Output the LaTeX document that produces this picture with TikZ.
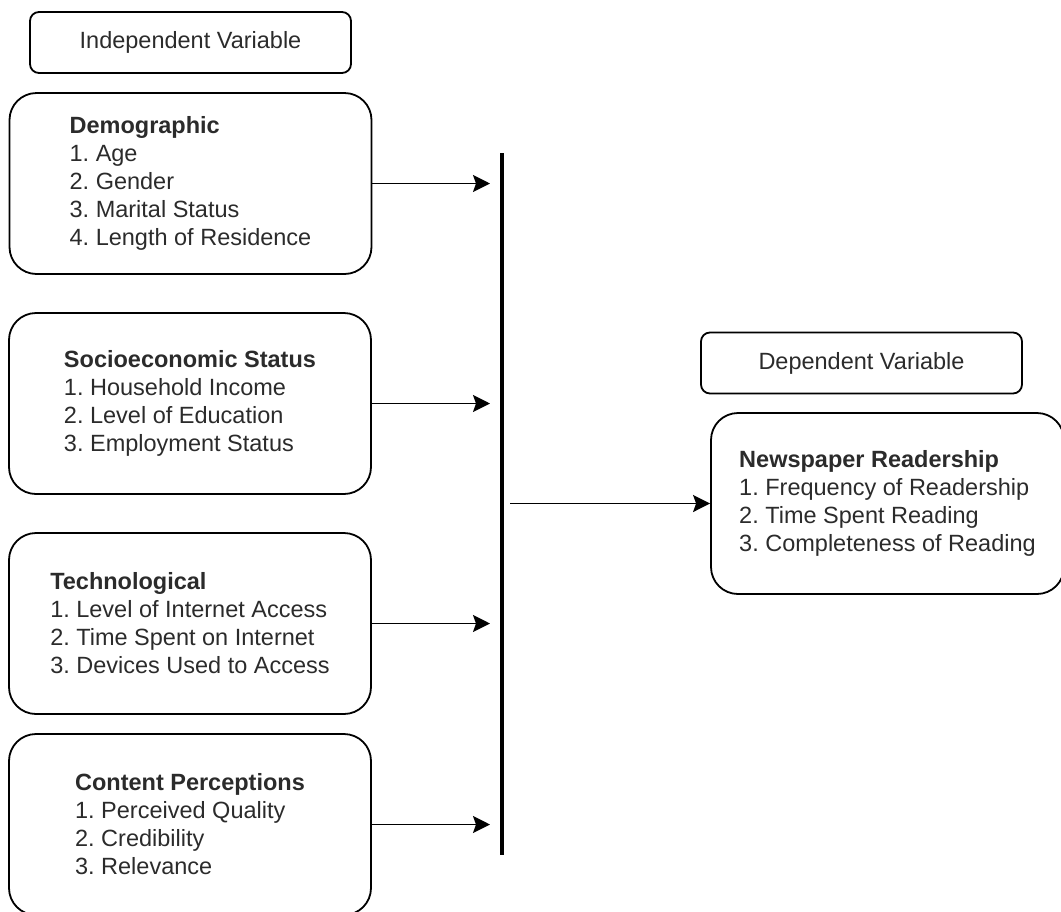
\documentclass[tikz,border=0pt]{standalone}
\usepackage{fontspec}
\setmainfont{Liberation Sans}
\usetikzlibrary{arrows.meta, positioning}
\usepackage{xcolor}
\definecolor{FrameBlack}{HTML}{000000}
\definecolor{TextGray}{HTML}{2B2B2B}
\frenchspacing
\tikzset{
    % Label boxes - small rounding
    header/.style={
        rectangle,
        rounded corners=9pt,
        draw=FrameBlack,
        line width=1.8pt,
        minimum width=321pt,
        minimum height=61pt,
        align=center,
        text=TextGray,
        font=\fontsize{23.5}{28}\selectfont
    },
    % Variable boxes - large rounding
    varbox/.style={
        rectangle,
        rounded corners=27pt,
        draw=FrameBlack,
        line width=1.8pt,
        minimum width=362pt,
        minimum height=181pt,
        align=left,
        text=TextGray,
        font=\fontsize{23.5}{28}\selectfont
    },
    % Arrow styles
    arrow/.style={
        -{Stealth[length=17pt,width=17pt,inset=3pt]},
        line width=1.8pt,
        draw=FrameBlack
    },
    bar/.style={
        line width=3.5pt,
        draw=FrameBlack
    }
}

\begin{document}
\begin{tikzpicture}[x=1pt,y=-1pt]
    \useasboundingbox (0,0) rectangle (1061,911);

    \node[header] (indep) at (190.5,42.5) {Independent Variable};
    \node[varbox] (demo) at (190.5,183.5) {\textbf{Demographic}\\1. Age\\2. Gender\\3. Marital Status\\4. Length of Residence};
    \node[varbox] (socio) at (190,403.5) {\textbf{Socioeconomic Status}\\1. Household Income\\2. Level of Education\\3. Employment Status};
    \node[varbox] (tech) at (190,623.5) {\textbf{Technological}\\1. Level of Internet Access\\2. Time Spent on Internet\\3. Devices Used to Access};
    \node[varbox] (content) at (190,824.5) {\textbf{Content Perceptions}\\1. Perceived Quality\\2. Credibility\\3. Relevance};

    \node[header] (dep) at (861.5,363) {Dependent Variable};
    \node[varbox, minimum width=353pt] (reader) at (887.5,503.5) {\textbf{Newspaper Readership}\\1. Frequency of Readership\\2. Time Spent Reading\\3. Completeness of Reading};

    % joining bar
    \coordinate (bartop) at (502,153);
    \coordinate (barbot) at (502,855);
    \draw[bar] (bartop) -- (barbot);

    \draw[arrow, shorten >=12pt] (demo.east) -- (demo.east -| bartop);
    \draw[arrow, shorten >=12pt] (socio.east) -- (socio.east -| bartop);
    \draw[arrow, shorten >=12pt] (tech.east) -- (tech.east -| bartop);
    \draw[arrow, shorten >=12pt] (content.east) -- (content.east -| bartop);
    \draw[arrow, shorten <=8pt] (reader.west -| bartop) -- (reader.west);
\end{tikzpicture}
\end{document}
